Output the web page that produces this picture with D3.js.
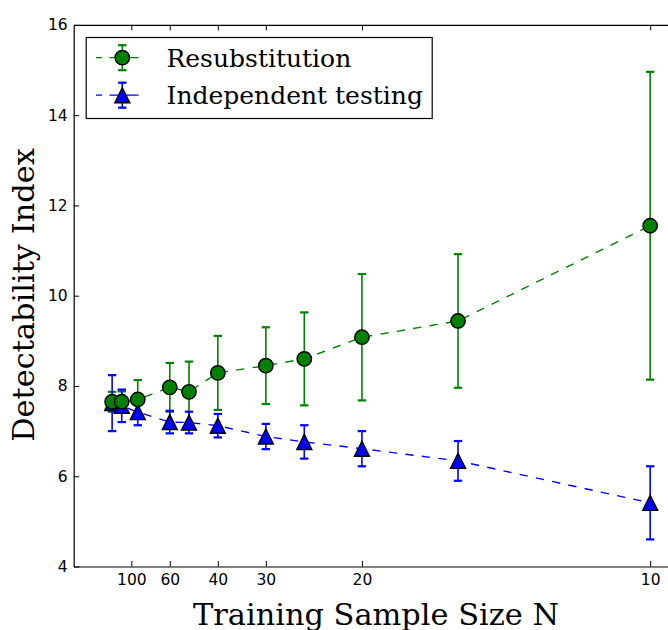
<!DOCTYPE html>
<html>
<head>
<meta charset="utf-8">
<script src="https://cdn.jsdelivr.net/npm/d3@7"></script>
<style>
  html, body { margin: 0; padding: 0; background: #ffffff; }
  svg { display: block; }
</style>
</head>
<body>
<script>
// Training sample sizes and the detectability index for both estimators
const sampleSizes = [150, 120, 90, 60, 50, 40, 30, 25, 20, 15, 10];
const resubMean = [7.65, 7.65, 7.70, 7.97, 7.87, 8.29, 8.45, 8.60, 9.08, 9.44, 11.55];
const resubErr  = [0.22, 0.23, 0.43, 0.54, 0.67, 0.82, 0.85, 1.03, 1.40, 1.48, 3.41];
const indepMean = [7.62, 7.56, 7.42, 7.20, 7.19, 7.12, 6.88, 6.76, 6.61, 6.34, 5.41];
const indepErr  = [0.62, 0.36, 0.29, 0.25, 0.24, 0.26, 0.28, 0.37, 0.39, 0.44, 0.81];

const xTickSizes = [100, 60, 40, 30, 20, 10];
const yTicks = [4, 6, 8, 10, 12, 14, 16];
const seriesNames = ["Resubstitution", "Independent testing"];

const W = 668, H = 630;
const plot = { left: 73.7, right: 679, top: 24.9, bottom: 566.5 };

const svg = d3.select("body").append("svg")
  .attr("width", W).attr("height", H)
  .attr("viewBox", `0 0 ${W} ${H}`);

// x axis is linear in 1/N, so larger training sets sit to the left
const xInv = d3.scaleLinear().domain([0, 0.105]).range([plot.left, plot.right]);
const x = n => xInv(1 / n);
const y = d3.scaleLinear().domain([4, 16]).range([plot.bottom, plot.top]);

const tickFont = "'DejaVu Sans', sans-serif";
const serifFont = "'DejaVu Serif', serif";

// Axes with inward ticks on every visible side
const xAxis = d3.axisBottom(xInv)
  .tickValues(xTickSizes.map(n => 1 / n))
  .tickFormat((d, i) => xTickSizes[i])
  .tickSizeInner(-5.5).tickSizeOuter(0).tickPadding(7);
const gx = svg.append("g").attr("transform", `translate(0,${plot.bottom})`).call(xAxis);

const xTop = d3.axisTop(xInv)
  .tickValues(xTickSizes.map(n => 1 / n))
  .tickFormat("")
  .tickSizeInner(-5.5).tickSizeOuter(0);
const gxt = svg.append("g").attr("transform", `translate(0,${plot.top})`).call(xTop);

const yAxis = d3.axisLeft(y).tickValues(yTicks).tickFormat(d3.format("d"))
  .tickSizeInner(-5.5).tickSizeOuter(0).tickPadding(6);
const gy = svg.append("g").attr("transform", `translate(${plot.left},0)`).call(yAxis);

[gx, gxt, gy].forEach(g => {
  g.select(".domain").attr("stroke", "#000").attr("stroke-width", 1.2);
  g.selectAll(".tick line").attr("stroke", "#000").attr("stroke-width", 1);
  g.selectAll(".tick text")
    .attr("fill", "#000")
    .style("font-family", tickFont)
    .style("font-size", "15.5px");
});

// Series definitions built from the arrays above
const series = [
  { name: seriesNames[0], mean: resubMean, err: resubErr, color: "#008000", marker: "circle" },
  { name: seriesNames[1], mean: indepMean, err: indepErr, color: "#0000ff", marker: "triangle" }
];

const triPath = s => `M0,${-s / 2}L${s / 2},${s / 2}L${-s / 2},${s / 2}Z`;
const capHalf = 4.2;

// Error bars (drawn beneath all markers)
series.forEach(s => {
  const g = svg.append("g");
  sampleSizes.forEach((n, i) => {
    const cx = x(n), hi = y(s.mean[i] + s.err[i]), lo = y(s.mean[i] - s.err[i]);
    g.append("line").attr("x1", cx).attr("x2", cx).attr("y1", hi).attr("y2", lo)
      .attr("stroke", s.color).attr("stroke-width", 1.6);
    [hi, lo].forEach(cy => g.append("line")
      .attr("x1", cx - capHalf).attr("x2", cx + capHalf).attr("y1", cy).attr("y2", cy)
      .attr("stroke", s.color).attr("stroke-width", 2.2));
  });
});

const line = d3.line().x((d, i) => x(sampleSizes[i])).y(d => y(d));

// Independent testing first, resubstitution markers on top
[series[1], series[0]].forEach(s => {
  svg.append("path").datum(s.mean)
    .attr("d", line)
    .attr("fill", "none")
    .attr("stroke", s.color)
    .attr("stroke-width", 1.4)
    .attr("stroke-dasharray", "8.3,8.3");
  const mg = svg.append("g");
  s.mean.forEach((v, i) => {
    if (s.marker === "circle") {
      mg.append("circle").attr("cx", x(sampleSizes[i])).attr("cy", y(v)).attr("r", 7.2)
        .attr("fill", s.color).attr("stroke", "#000").attr("stroke-width", 1.4);
    } else {
      mg.append("path").attr("d", triPath(15))
        .attr("transform", `translate(${x(sampleSizes[i])},${y(v)})`)
        .attr("fill", s.color).attr("stroke", "#000").attr("stroke-width", 1.4)
        .attr("stroke-linejoin", "miter");
    }
  });
});

// Legend
const legend = svg.append("g");
legend.append("rect").attr("x", 86.2).attr("y", 37.5).attr("width", 346).attr("height", 81)
  .attr("fill", "#fff").attr("stroke", "#000").attr("stroke-width", 1.2);
const rowsY = [57.7, 95.2];
series.forEach((s, k) => {
  const cy = rowsY[k], cx = 122.3;
  legend.append("line").attr("x1", 96).attr("x2", 138.5).attr("y1", cy).attr("y2", cy)
    .attr("stroke", s.color).attr("stroke-width", 1.3).attr("stroke-dasharray", "6,7.5,29,10");
  legend.append("line").attr("x1", cx).attr("x2", cx).attr("y1", cy - 12.5).attr("y2", cy + 12.5)
    .attr("stroke", s.color).attr("stroke-width", 1.6);
  [cy - 12.5, cy + 12.5].forEach(yy => legend.append("line")
    .attr("x1", cx - capHalf).attr("x2", cx + capHalf).attr("y1", yy).attr("y2", yy)
    .attr("stroke", s.color).attr("stroke-width", 2.2));
  if (s.marker === "circle") {
    legend.append("circle").attr("cx", cx).attr("cy", cy).attr("r", 7.2)
      .attr("fill", s.color).attr("stroke", "#000").attr("stroke-width", 1.4);
  } else {
    legend.append("path").attr("d", triPath(15)).attr("transform", `translate(${cx},${cy})`)
      .attr("fill", s.color).attr("stroke", "#000").attr("stroke-width", 1.4);
  }
  legend.append("text").attr("x", 166.5).attr("y", cy + 9)
    .style("font-family", serifFont).style("font-size", "25px").attr("fill", "#000")
    .text(s.name);
});

// Axis titles
svg.append("text")
  .attr("transform", "translate(34,295) rotate(-90)")
  .attr("text-anchor", "middle")
  .style("font-family", serifFont).style("font-size", "30.4px").attr("fill", "#000")
  .text("Detectability Index");

svg.append("text")
  .attr("x", 376).attr("y", 624.5)
  .attr("text-anchor", "middle")
  .style("font-family", serifFont).style("font-size", "30.4px").attr("fill", "#000")
  .text("Training Sample Size N");
</script>
</body>
</html>
